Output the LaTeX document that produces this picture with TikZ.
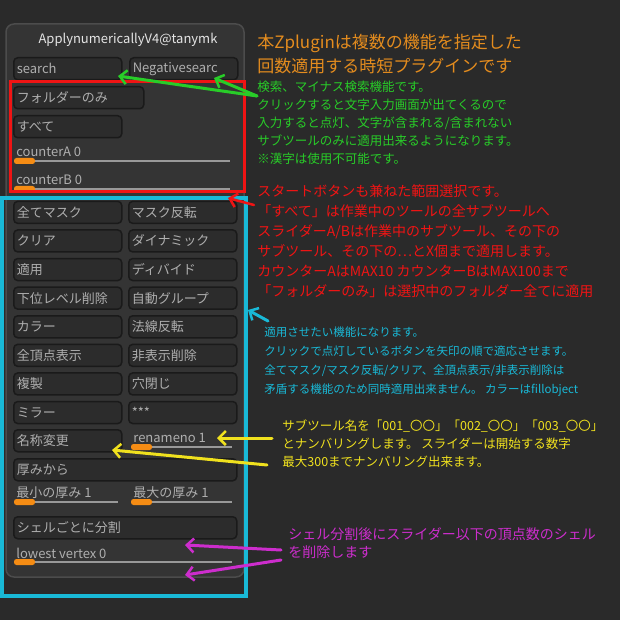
\documentclass[tikz,border=0pt]{standalone}
\usepackage{fontspec}
\setmainfont{Noto Sans CJK JP}
\usetikzlibrary{arrows.meta}
\definecolor{bgdark}{RGB}{42,42,42}
\definecolor{paneldark}{RGB}{52,52,52}
\definecolor{btnfill}{RGB}{44,44,44}
\definecolor{btnedge}{RGB}{26,26,26}
\definecolor{btntext}{RGB}{175,175,175}
\definecolor{thumb}{RGB}{245,140,20}
\definecolor{notegreen}{RGB}{40,205,40}
\definecolor{notered}{RGB}{240,20,20}
\definecolor{notecyan}{RGB}{25,185,215}
\definecolor{noteyellow}{RGB}{240,225,30}
\definecolor{notepink}{RGB}{205,45,205}
\definecolor{noteorange}{RGB}{228,140,30}
\tikzset{every picture/.style={line width=0.75pt},
  btn/.style={draw=btnedge,line width=1.5pt,fill=btnfill,rounded corners=4pt,text=btntext,inner sep=3pt,
    minimum height=22pt,anchor=north west,align=left,font=\fontsize{13}{14}\selectfont},
  lbl/.style={text=btntext,anchor=west,inner sep=0pt,font=\fontsize{13}{14}\selectfont},
  note/.style={anchor=north west,align=left,inner sep=0pt},
  hand arrow/.style={line width=3pt,line cap=round,-{Straight Barb[length=7pt,width=14pt,line width=2.5pt]}}}

\begin{document}
\begin{tikzpicture}[x=1pt,y=1pt,yscale=-1,xscale=1]
        \fill [bgdark] (0,0) rectangle (620,620);
        \useasboundingbox (0,0) rectangle (620,620);
        %Panel
        \draw [fill=paneldark,draw=black!70,line width=1.5pt,rounded corners=8pt] (6,24) rectangle (244,577);
        \node [text=white!90!black,font=\fontsize{13}{14}\selectfont] (title) at (128,40) {ApplynumericallyV4@tanymk};
        %Buttons
        \node [btn,text width=102pt] (search) at (13,57) {search};
        \node [btn,text width=102pt] (negsearch) at (129,57) {Negativesearc};
        \node [btn,text width=124pt] (folder) at (13,86) {フォルダーのみ};
        \node [btn,text width=102pt] (all) at (13,115) {すべて};
        \foreach \nm/\txt/\xx/\yy/\ww in {ca/counterA 0/16/152/230, cb/counterB 0/16/180/230, thmin/最小の厚み 1/16/493/118, thmax/最大の厚み 1/133/493/232, low/lowest vertex 0/16/553/232, ren/renameno 1/133/438/232}{
          \node [lbl] (\nm) at (\xx,\yy) {\txt};
          \draw [black!40,line width=1.2pt] (\xx-2,\yy+9) -- (\ww,\yy+9);
          \fill [thumb,rounded corners=2.5pt] (\xx-2,\yy+6) rectangle (\xx+19,\yy+12);
        }
        \foreach \lt/\rt [count=\i] in {全てマスク/マスク反転, クリア/ダイナミック, 適用/ディバイド, 下位レベル削除/自動グループ, カラー/法線反転, 全頂点表示/非表示削除, 複製/穴閉じ, ミラー/***}{
          \node [btn,text width=102pt] (l\i) at (13,172+28.6*\i) {\lt};
          \node [btn,text width=102pt] (r\i) at (128,172+28.6*\i) {\rt};
        }
        \node [btn,text width=102pt] (rename) at (13,429) {名称変更};
        \node [btn,text width=217pt] (thick) at (13,458) {厚みから};
        \node [btn,text width=217pt] (shell) at (13,516) {シェルごとに分割};
        %Frames
        \draw [notered,line width=3pt] (10,82) rectangle (244,192);
        \draw [notecyan,line width=3.5pt] (2,198) rectangle (246,596);
        %Notes
        \node [note,text=noteorange,font=\fontsize{17}{24}\selectfont] (intro) at (257,34) {本Zpluginは複数の機能を指定した\\回数適用する時短プラグインです};
        \node [note,text=notegreen,font=\fontsize{12.5}{17.8}\selectfont] (gnote) at (257,81) {検索、マイナス検索機能です。\\クリックすると文字入力画面が出てくるので\\入力すると点灯、文字が含まれる/含まれない\\サブツールのみに適用出来るようになります。\\※漢字は使用不可能です。};
        \node [note,text=notered,font=\fontsize{14}{20}\selectfont] (rnote) at (257,184) {スタートボタンも兼ねた範囲選択です。\\「すべて」は作業中のツールの全サブツールへ\\スライダーA/Bは作業中のサブツール、その下の\\サブツール、その下の…とX個まで適用します。\\カウンターAはMAX10 カウンターBはMAX100まで\\「フォルダーのみ」は選択中のフォルダー全てに適用};
        \node [note,text=notecyan,font=\fontsize{11.5}{19}\selectfont] (cnote) at (264,326) {適用させたい機能になります。\\クリックで点灯しているボタンを矢印の順で適応させます。\\全てマスク/マスク反転/クリア、全頂点表示/非表示削除は\\矛盾する機能のため同時適用出来ません。 カラーはfillobject};
        \node [note,text=noteyellow,font=\fontsize{12.5}{18}\selectfont] (ynote) at (282,419) {サブツール名を「001\_〇〇」「002\_〇〇」「003\_〇〇」\\とナンバリングします。 スライダーは開始する数字\\最大300までナンバリング出来ます。};
        \node [note,text=notepink,font=\fontsize{14}{18}\selectfont] (pnote) at (288,527) {シェル分割後にスライダー以下の頂点数のシェル\\を削除します};
        %Arrows
        \coordinate (gt) at (257,96);
        \coordinate (gh1) at (118,76);
        \coordinate (gh2) at (214,78);
        \draw [hand arrow,notegreen] (gt) -- (gh1);
        \draw [hand arrow,notegreen] (gt) -- (gh2);
        \coordinate (rt) at (254,205);
        \coordinate (rh) at (228,198);
        \draw [hand arrow,notered,line width=2.5pt] (rt) -- (rh);
        \coordinate (ct) at (268,321);
        \coordinate (ch) at (248,310);
        \draw [hand arrow,notecyan] (ct) -- (ch);
        \coordinate (yt1) at (272,438);
        \coordinate (yh1) at (217,438);
        \coordinate (yt2) at (267,465);
        \coordinate (yh2) at (112,450);
        \draw [hand arrow,noteyellow] (yt1) -- (yh1);
        \draw [hand arrow,noteyellow] (yt2) -- (yh2);
        \coordinate (pt1) at (281,550);
        \coordinate (ph1) at (185,545);
        \coordinate (pt2) at (281,560);
        \coordinate (ph2) at (185,575);
        \draw [hand arrow,notepink] (pt1) -- (ph1);
        \draw [hand arrow,notepink] (pt2) -- (ph2);
\end{tikzpicture}
\end{document}
